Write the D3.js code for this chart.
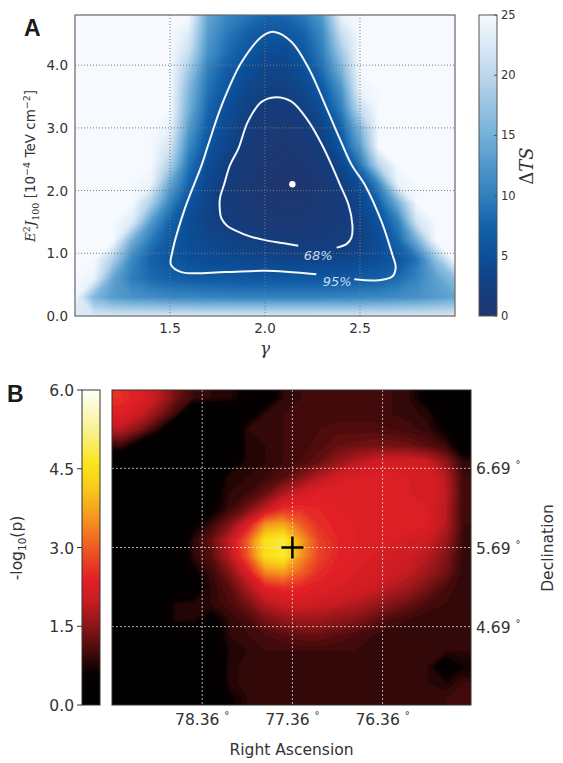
<!DOCTYPE html>
<html lang="en">
<head>
<meta charset="utf-8">
<title>Spectral fit and sky map</title>
<script src="https://d3js.org/d3.v7.min.js"></script>
<style>
  body { margin: 0; background: #fff; }
  svg { display: block; font-family: "DejaVu Sans", sans-serif; }
</style>
</head>
<body>
<script>
// ---------- panel A : delta TS over (gamma, flux) ----------
const gammaNodes = [1.0,1.1,1.2,1.3,1.4,1.5,1.6,1.7,1.8,1.9,2.0,2.1,2.2,2.3,2.4,2.5,2.6,2.7,2.8,2.9,3.0];
const fluxNodes = [4.8,4.5,4.2,3.9,3.6,3.3,3.0,2.7,2.4,2.1,1.8,1.5,1.2,0.9,0.6,0.3,0];
// one row per flux node (top to bottom), one value per gamma node
const dtsGrid = [
  [25,25,25,25,25,25,25,14,11,9.5,8,8,9.5,13,24,25,25,25,25,25,25],
  [25,25,25,25,25,25,23,13,9.5,7.5,6.2,6.2,7.5,11,21,25,25,25,25,25,25],
  [25,25,25,25,25,25,21,12,8.5,6.3,4.8,4.6,6.3,10,18,25,25,25,25,25,25],
  [25,25,25,25,25,25,18,10,7,5,3.5,3.4,5,8.5,15,25,25,25,25,25,25],
  [25,25,25,25,25,25,16,9,6,4,2.9,2.8,3.8,6.5,12,24,25,25,25,25,25],
  [25,25,25,25,25,25,15,8,5,3.2,1.9,1.8,2.8,5,10,21,25,25,25,25,25],
  [25,25,25,25,25,24,13,7,4.3,2.3,1.3,1.0,1.6,3.4,7.5,16,25,25,25,25,25],
  [25,25,25,25,25,22,11,6,3.5,1.8,0.9,0.5,1.0,2.3,6,13,25,25,25,25,25],
  [25,25,25,25,25,19,9,5,2.6,1.2,0.5,0.2,0.5,1.5,3.8,9,20,25,25,25,25],
  [25,25,25,25,24,14,7.5,4,2.1,0.9,0.3,0.05,0.1,0.8,2.4,4.8,11,24,25,25,25],
  [25,25,25,25,19,10.5,5.6,3.4,1.8,0.9,0.5,0.3,0.4,1.0,1.9,3.8,7.5,15,25,25,25],
  [25,25,25,23,13,7.5,4.8,3.2,2.1,1.4,1.0,0.8,0.8,1.2,1.9,3.2,5.6,10,22,25,25],
  [25,25,25,15,9.5,6.5,5.0,4.0,3.3,2.8,2.3,2.1,1.95,1.95,2.1,3.0,4.8,8.0,15,25,25],
  [25,25,19,11,7.5,6.1,5.2,4.7,4.3,4.0,3.8,3.6,3.5,3.5,3.7,4.2,5.0,6.2,9,17,25],
  [25,24,14,10,8.3,7.4,7.0,6.7,6.5,6.4,6.3,6.3,6.3,6.3,6.5,6.8,7.3,8.3,10.5,13.5,17],
  [25,16,13,12,11.5,11,10.8,10.6,10.5,10.4,10.4,10.4,10.4,10.5,10.6,10.8,11,11.5,12,13,14],
  [23,22.5,22.5,22.5,22.5,22.5,22.5,22.5,22.5,22.5,22.5,22.5,22.5,22.5,22.5,22.5,22.5,22.5,22.5,22.5,22.5]
];
// contour lines [gamma, flux], open where the inline label sits
const contour68 = [[2.377,1.09],[2.43,1.15],[2.455,1.25],[2.46,1.45],[2.44,1.77],[2.394,2.1],[2.35,2.41],[2.30,2.73],
  [2.23,3.10],[2.14,3.42],[2.055,3.49],[1.98,3.41],[1.91,3.10],[1.86,2.67],[1.815,2.40],[1.785,2.1],[1.763,1.88],
  [1.762,1.7],[1.77,1.56],[1.80,1.44],[1.84,1.37],[1.92,1.27],[2.0,1.21],[2.1,1.16],[2.175,1.12]];
const contour95 = [[2.47,0.585],[2.596,0.57],[2.67,0.63],[2.688,0.78],[2.67,0.98],[2.614,1.50],[2.526,2.09],[2.456,2.41],
  [2.40,2.78],[2.316,3.37],[2.23,3.95],[2.14,4.37],[2.05,4.53],[1.99,4.47],[1.877,4.05],[1.772,3.36],[1.70,2.72],
  [1.667,2.41],[1.579,1.72],[1.512,1.02],[1.505,0.82],[1.56,0.70],[1.79,0.70],[2.0,0.72],[2.27,0.665]];
const contourLabels = [["68%",2.28,0.98],["95%",2.38,0.56]];
const bestFit = [2.144, 2.10];
const gammaTicks = [1.5, 2.0, 2.5];
const fluxTicks = [0, 1, 2, 3, 4];
const dtsTicks = [0, 5, 10, 15, 20, 25];

// ---------- panel B : -log10(p) sky map ----------
const raNodes = [79.26,79.06,78.86,78.66,78.46,78.27,78.07,77.87,77.67,77.47,77.27,77.07,76.87,76.67,76.47,76.28,76.08,75.88,75.68,75.48];
const decNodes = [7.58,7.38,7.18,6.98,6.78,6.59,6.39,6.19,5.99,5.79,5.59,5.39,5.19,4.99,4.79,4.60,4.40,4.20,4.00,3.80];
const logpGrid = [
  [2.6,2.4,2.0,1.4,1.0,0.9,0.85,0.5,0.3,0.9,1.0,1.0,1.0,1.0,1.0,1.0,0.9,0.5,0,0],
  [2.4,2.1,1.6,1.0,0,0,0,0.4,0.9,1.0,1.0,1.05,1.05,1.05,1.05,1.0,0.95,0.85,0.2,0],
  [1.9,1.5,0.9,0,0,0,0,0.9,0.95,1.0,1.05,1.1,1.15,1.15,1.15,1.1,1.05,0.95,0.6,0],
  [1.0,0.4,0,0,0,0,0,0.85,0.9,1.0,1.05,1.15,1.3,1.35,1.4,1.4,1.35,1.2,1.0,0.3],
  [0,0,0,0,0,0,0.3,0.85,0.9,1.0,1.1,1.3,1.6,1.9,2.1,2.2,2.2,2.1,1.6,0.9],
  [0,0,0,0,0,0.2,0.85,0.9,1.0,1.2,1.5,1.9,2.2,2.3,2.35,2.35,2.3,2.3,1.9,1.0],
  [0,0,0,0,0,0.4,0.9,1.0,1.3,1.8,2.2,2.4,2.4,2.4,2.4,2.35,2.3,2.3,2.0,1.0],
  [0,0,0,0,0,0.5,1.0,1.4,2.0,2.6,2.6,2.5,2.4,2.4,2.4,2.4,2.4,2.3,1.9,1.0],
  [0,0,0,0,0.5,1.0,1.5,2.3,3.6,3.8,3.1,2.6,2.45,2.4,2.4,2.4,2.4,2.3,1.9,1.0],
  [0,0,0,0,0.9,1.3,2.0,3.1,4.6,4.9,3.7,2.8,2.5,2.4,2.35,2.3,2.2,2.1,1.7,0.95],
  [0,0,0,0,0.9,1.2,1.9,3.0,4.5,4.8,3.6,2.8,2.5,2.4,2.3,2.2,2.1,1.9,1.5,0.95],
  [0,0,0,0,0.6,1.0,1.5,2.3,3.5,3.7,3.1,2.6,2.4,2.3,2.2,2.1,2.0,1.7,1.4,0.9],
  [0,0,0,0,0.3,0.9,1.2,1.8,2.4,2.6,2.5,2.4,2.3,2.2,2.1,1.9,1.7,1.4,1.1,0.9],
  [0,0,0,0.8,0.8,0.9,1.1,1.4,1.9,2.1,2.2,2.1,2.0,1.9,1.7,1.5,1.3,1.1,1.0,0.9],
  [0,0,0,0.8,0.8,0.5,0.9,1.1,1.4,1.6,1.7,1.7,1.6,1.5,1.3,1.1,1.0,0.9,0.9,0.9],
  [0,0,0,0,0.4,0.3,0.9,1.0,1.1,1.2,1.3,1.3,1.2,1.1,1.0,0.9,0.9,0.9,0.9,0.9],
  [0,0,0,0,0,0,0.8,0.9,1.0,1.0,1.0,1.0,1.0,1.0,0.95,0.9,0.9,0.9,0.9,0.9],
  [0,0,0,0,0,0,0.85,0.95,0.95,0.95,0.95,0.95,0.95,0.95,0.9,0.9,0.9,0.9,0.3,0.7],
  [0,0,0,0,0,0,0.85,0.95,0.95,0.95,0.95,0.95,0.95,0.95,0.9,0.9,0.9,0.9,0.8,1.0],
  [0,0,0,0,0,0,0.6,0.9,0.9,0.9,0.9,0.9,0.9,0.9,0.9,0.9,0.9,0.9,1.0,1.0]
];
const raTicks = [78.36, 77.36, 76.36];
const decTicks = [6.69, 5.69, 4.69];
const logpTicks = [0, 1.5, 3.0, 4.5, 6.0];
const hotspot = [77.36, 5.69];

const W = 563, H = 763;
const svg = d3.select("body").append("svg").attr("width", W).attr("height", H);
const defs = svg.append("defs");

// colour scales
const dtsColor = d3.scaleLinear()
  .domain([0, 2.5, 5, 7.5, 10, 12.5, 15, 20, 25])
  .range(["#1d3670","#133f80","#0b4f98","#1562aa","#3080bd","#5197ca","#74b0d8","#bdd7ec","#f6faff"])
  .clamp(true);
const logpColor = d3.scaleLinear()
  .domain([0, 0.6, 0.8, 1.0, 1.5, 2.0, 2.4, 3.0, 3.6, 4.2, 4.6, 5.2, 6.0])
  .range(["#000000","#080000","#240505","#420a0a","#8a1518","#c81c22","#e21f26","#ee5a24","#f59a1e","#f9cf18","#fbe41c","#f8f08a","#fffff8"])
  .clamp(true);

// filled bands from a value grid. The grid is edge-padded by one cell so the
// marching-squares corners fall outside the clipped plot area.
function drawField(g, grid, thresholds, color, xs, ys) {
  const padded = [grid[0], ...grid, grid[grid.length - 1]].map(r => [r[0], ...r, r[r.length - 1]]);
  const n = padded[0].length, m = padded.length;
  const sx = xs[1] - xs[0], sy = ys[1] - ys[0];
  const bands = d3.contours().size([n, m]).thresholds(thresholds)(padded.flat());
  g.append("g")
    .attr("transform", `translate(${xs[0] - 1.5 * sx},${ys[0] - 1.5 * sy}) scale(${sx},${sy})`)
    .selectAll("path").data(bands).join("path")
    .attr("d", d3.geoPath())
    .attr("fill", d => color(d.value));
}

// ================= panel A =================
const A = {left: 75, right: 455, top: 15, bottom: 316};
const x = d3.scaleLinear().domain([1.0, 3.0]).range([A.left, A.right]);
const y = d3.scaleLinear().domain([0, 4.8]).range([A.bottom, A.top]);

defs.append("clipPath").attr("id", "clipA").append("rect")
  .attr("x", A.left).attr("y", A.top).attr("width", A.right - A.left).attr("height", A.bottom - A.top);

drawField(svg.append("g").attr("clip-path", "url(#clipA)"), dtsGrid, d3.range(0, 25.01, 0.25), dtsColor,
  [x(gammaNodes[0]), x(gammaNodes[1])], [y(fluxNodes[0]), y(fluxNodes[1])]);

// grid
const gA = svg.append("g").attr("stroke", "#7a7a7a").attr("stroke-width", 1).attr("stroke-dasharray", "1,2");
gA.selectAll(".vx").data(gammaTicks).join("line")
  .attr("x1", d => x(d)).attr("x2", d => x(d)).attr("y1", A.top).attr("y2", A.bottom);
gA.selectAll(".hy").data(fluxTicks.filter(d => d > 0)).join("line")
  .attr("y1", d => y(d)).attr("y2", d => y(d)).attr("x1", A.left).attr("x2", A.right);

// contours
const line = d3.line().x(d => x(d[0])).y(d => y(d[1])).curve(d3.curveCatmullRom.alpha(0.5));
svg.append("g").attr("clip-path", "url(#clipA)").selectAll("path").data([contour68, contour95]).join("path")
  .attr("d", line).attr("fill", "none").attr("stroke", "#f4f7fb").attr("stroke-width", 2);
svg.selectAll(".clab").data(contourLabels).join("text")
  .attr("x", d => x(d[1])).attr("y", d => y(d[2]) + 5)
  .attr("text-anchor", "middle").attr("font-size", 13).attr("font-style", "italic")
  .attr("fill", "#c9d9ec").text(d => d[0]);
svg.append("circle").attr("cx", x(bestFit[0])).attr("cy", y(bestFit[1])).attr("r", 3.2).attr("fill", "#fff");

svg.append("rect").attr("x", A.left).attr("y", A.top).attr("width", A.right - A.left).attr("height", A.bottom - A.top)
  .attr("fill", "none").attr("stroke", "#666").attr("stroke-width", 1.2);

// tick labels
svg.selectAll(".xt").data(gammaTicks).join("text")
  .attr("x", d => x(d)).attr("y", 333).attr("text-anchor", "middle")
  .attr("font-size", 13.5).attr("fill", "#333").text(d => d.toFixed(1));
svg.selectAll(".yt").data(fluxTicks).join("text")
  .attr("x", 68).attr("y", d => y(d) + 5).attr("text-anchor", "end")
  .attr("font-size", 13.5).attr("fill", "#333").text(d => d.toFixed(1));

svg.append("text").attr("x", x(2.0)).attr("y", 354).attr("text-anchor", "middle")
  .attr("font-family", "DejaVu Serif").attr("font-style", "italic").attr("font-size", 17).attr("fill", "#333").text("γ");

const yl = svg.append("text").attr("transform", "translate(35,166) rotate(-90)")
  .attr("text-anchor", "middle").attr("font-size", 13.5).attr("fill", "#333");
yl.append("tspan").attr("font-family", "DejaVu Serif").attr("font-style", "italic").text("E");
yl.append("tspan").attr("font-family", "DejaVu Serif").attr("font-size", 9.5).attr("dy", -5).text("2");
yl.append("tspan").attr("font-family", "DejaVu Serif").attr("font-style", "italic").attr("dy", 5).text("J");
yl.append("tspan").attr("font-family", "DejaVu Serif").attr("font-size", 9.5).attr("dy", 3.5).text("100");
yl.append("tspan").attr("dy", -3.5).text(" [10");
yl.append("tspan").attr("font-size", 9.5).attr("dy", -5).text("−4");
yl.append("tspan").attr("dy", 5).text(" TeV cm");
yl.append("tspan").attr("font-size", 9.5).attr("dy", -5).text("−2");
yl.append("tspan").attr("dy", 5).text("]");

svg.append("text").attr("x", 24).attr("y", 36).attr("font-family", "Liberation Sans")
  .attr("font-weight", "bold").attr("font-size", 23).attr("fill", "#1a1a1a").text("A");

// colorbar A
const cbA = {x: 479, w: 18, top: 15, bottom: 316};
const cy = d3.scaleLinear().domain([0, 25]).range([cbA.bottom, cbA.top]);
const gradA = defs.append("linearGradient").attr("id", "gradA").attr("x1", 0).attr("x2", 0).attr("y1", 1).attr("y2", 0);
gradA.selectAll("stop").data(d3.range(0, 25.01, 0.5)).join("stop")
  .attr("offset", d => d / 25).attr("stop-color", d => dtsColor(d));
svg.append("rect").attr("x", cbA.x).attr("y", cbA.top).attr("width", cbA.w).attr("height", cbA.bottom - cbA.top)
  .attr("fill", "url(#gradA)").attr("stroke", "#555").attr("stroke-width", 1);
svg.selectAll(".cta").data(dtsTicks).join("line")
  .attr("x1", cbA.x + cbA.w - 3).attr("x2", cbA.x + cbA.w).attr("y1", d => cy(d)).attr("y2", d => cy(d))
  .attr("stroke", "#555");
svg.selectAll(".ctla").data(dtsTicks).join("text")
  .attr("x", cbA.x + cbA.w + 4).attr("y", d => cy(d) + 4).attr("font-size", 11.5).attr("fill", "#333").text(d => d);
const dl = svg.append("text").attr("transform", "translate(533,166) rotate(-90)")
  .attr("text-anchor", "middle").attr("font-size", 18).attr("fill", "#333");
dl.append("tspan").attr("font-family", "DejaVu Serif").text("Δ");
dl.append("tspan").attr("font-family", "DejaVu Serif").attr("font-style", "italic").text("TS");

// ================= panel B =================
const B = {left: 112, right: 471, top: 390, bottom: 705};
const ra = d3.scaleLinear().domain([79.36, 75.38]).range([B.left, B.right]);
const dec = d3.scaleLinear().domain([3.70, 7.68]).range([B.bottom, B.top]);

defs.append("clipPath").attr("id", "clipB").append("rect")
  .attr("x", B.left).attr("y", B.top).attr("width", B.right - B.left).attr("height", B.bottom - B.top);
drawField(svg.append("g").attr("clip-path", "url(#clipB)"), logpGrid, d3.range(0, 6.01, 0.1), logpColor,
  [ra(raNodes[0]), ra(raNodes[1])], [dec(decNodes[0]), dec(decNodes[1])]);

const gB = svg.append("g").attr("stroke", "#e8e8e8").attr("stroke-opacity", 0.75)
  .attr("stroke-width", 1).attr("stroke-dasharray", "2,2");
gB.selectAll(".rv").data(raTicks).join("line")
  .attr("x1", d => ra(d)).attr("x2", d => ra(d)).attr("y1", B.top).attr("y2", B.bottom);
gB.selectAll(".dh").data(decTicks).join("line")
  .attr("y1", d => dec(d)).attr("y2", d => dec(d)).attr("x1", B.left).attr("x2", B.right);

// hotspot cross
const hx = ra(hotspot[0]), hy = dec(hotspot[1]);
svg.append("path").attr("d", `M${hx - 11},${hy}H${hx + 11}M${hx},${hy - 11}V${hy + 11}`)
  .attr("stroke", "#000").attr("stroke-width", 2.5);

svg.append("rect").attr("x", B.left).attr("y", B.top).attr("width", B.right - B.left).attr("height", B.bottom - B.top)
  .attr("fill", "none").attr("stroke", "#333").attr("stroke-width", 1);

const raLab = svg.selectAll(".rt").data(raTicks).join("text")
  .attr("x", d => ra(d)).attr("y", 725).attr("text-anchor", "middle")
  .attr("font-size", 15.5).attr("fill", "#333");
raLab.append("tspan").text(d => d.toFixed(2) + " ");
raLab.append("tspan").attr("font-size", 10).attr("dy", -6).text("°");

const decLab = svg.selectAll(".dt").data(decTicks).join("text")
  .attr("x", 476).attr("y", d => dec(d) + 6)
  .attr("font-size", 15.5).attr("fill", "#333");
decLab.append("tspan").text(d => d.toFixed(2) + " ");
decLab.append("tspan").attr("font-size", 10).attr("dy", -6).text("°");

svg.append("text").attr("x", (B.left + B.right) / 2).attr("y", 755).attr("text-anchor", "middle")
  .attr("font-size", 15.5).attr("fill", "#333").text("Right Ascension");
svg.append("text").attr("transform", "translate(553,548) rotate(-90)").attr("text-anchor", "middle")
  .attr("font-size", 15.5).attr("fill", "#333").text("Declination");

// colorbar B
const cbB = {x: 82, w: 18, top: 390, bottom: 705};
const cyB = d3.scaleLinear().domain([0, 6]).range([cbB.bottom, cbB.top]);
const gradB = defs.append("linearGradient").attr("id", "gradB").attr("x1", 0).attr("x2", 0).attr("y1", 1).attr("y2", 0);
gradB.selectAll("stop").data(d3.range(0, 6.01, 0.1)).join("stop")
  .attr("offset", d => d / 6).attr("stop-color", d => logpColor(d));
svg.append("rect").attr("x", cbB.x).attr("y", cbB.top).attr("width", cbB.w).attr("height", cbB.bottom - cbB.top)
  .attr("fill", "url(#gradB)").attr("stroke", "#333").attr("stroke-width", 1);
svg.selectAll(".ctb").data(logpTicks).join("line")
  .attr("x1", cbB.x - 5).attr("x2", cbB.x).attr("y1", d => cyB(d)).attr("y2", d => cyB(d)).attr("stroke", "#333");
svg.selectAll(".ctlb").data(logpTicks).join("text")
  .attr("x", 74).attr("y", d => cyB(d) + 6).attr("text-anchor", "end")
  .attr("font-size", 15.5).attr("fill", "#333").text(d => d.toFixed(1));
const ll = svg.append("text").attr("transform", "translate(22,548) rotate(-90)")
  .attr("text-anchor", "middle").attr("font-size", 15.5).attr("fill", "#333");
ll.append("tspan").text("-log");
ll.append("tspan").attr("font-size", 10.5).attr("dy", 4).text("10");
ll.append("tspan").attr("dy", -4).text("(p)");

svg.append("text").attr("x", 7).attr("y", 402).attr("font-family", "Liberation Sans")
  .attr("font-weight", "bold").attr("font-size", 23).attr("fill", "#1a1a1a").text("B");
</script>
</body>
</html>
